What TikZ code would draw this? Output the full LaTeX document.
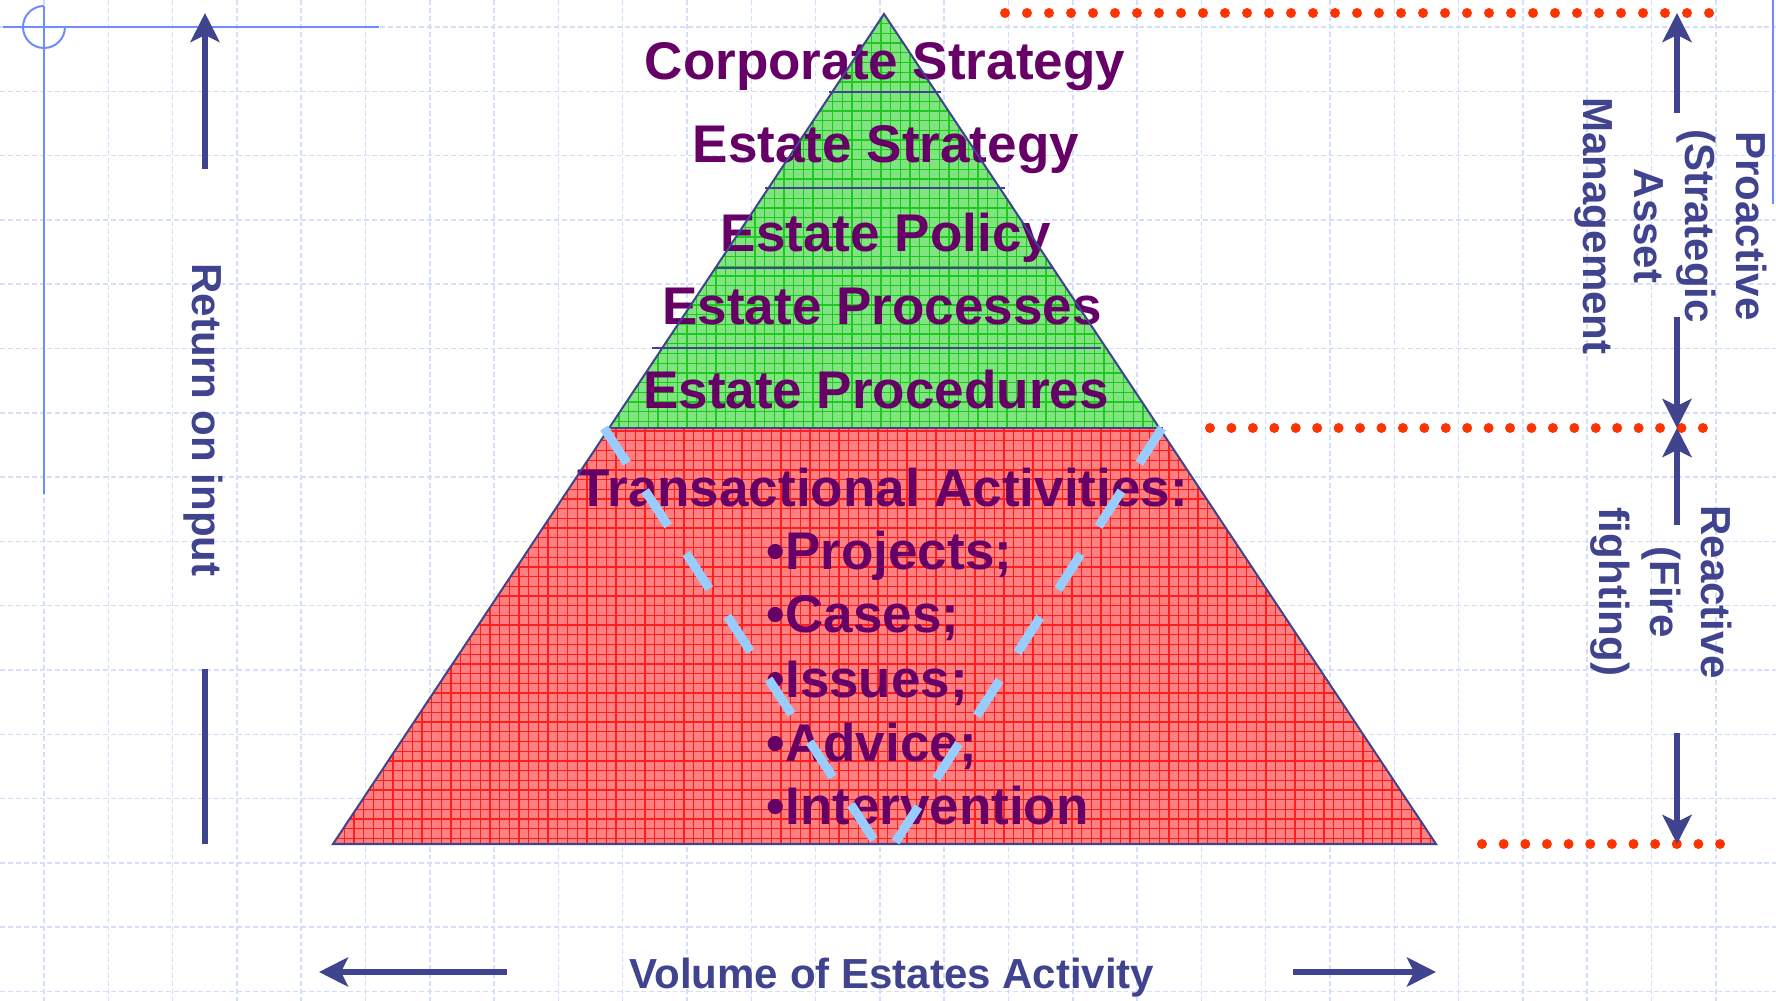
\documentclass[tikz,border=0pt]{standalone}
\usepackage{fontspec}
\setmainfont{Liberation Sans}
\usetikzlibrary{arrows.meta}
\definecolor{txtpurple}{RGB}{102,0,102}
\definecolor{lblblue}{RGB}{64,68,142}
\definecolor{dotred}{RGB}{255,51,0}
\definecolor{gridcol}{RGB}{212,222,250}
\definecolor{decoblue}{RGB}{110,140,255}
\definecolor{greenfill}{RGB}{128,228,128}
\definecolor{greenline}{RGB}{30,200,30}
\definecolor{redfill}{RGB}{255,128,128}
\definecolor{redline}{RGB}{255,30,30}
\definecolor{vblue}{RGB}{153,204,255}
\begin{document}
\begin{tikzpicture}[x=0.01cm,y=-0.01cm,
  pyr/.style={font=\fontsize{15.08}{18}\selectfont\bfseries, text=txtpurple, inner sep=0pt, anchor=base},
  bul/.style={pyr, anchor=base west},
  lbl/.style={font=\fontsize{11.95}{14.5}\selectfont\bfseries, text=lblblue, inner sep=0pt, align=center},
  arr/.style={draw=lblblue, line width=1.7pt, -{Stealth[length=8.25pt,width=8.25pt,inset=2pt]}},
  bar/.style={draw=lblblue, line width=1.7pt},
  bggrid/.style={draw=gridcol, line width=0.43pt, dash pattern=on 1.4pt off 0.85pt},
  deco/.style={draw=decoblue, line width=0.57pt},
  divider/.style={draw=lblblue, line width=0.7pt},
  vdash/.style={draw=vblue, line width=2.56pt, dash pattern=on 11.95pt off 9.39pt},
  reddot/.style={fill=dotred},
  patline/.style={line width=0.38pt}
]
\useasboundingbox (0,0) rectangle (1776,1001);
\fill[white] (0,0) rectangle (1776,1001);
% background grid
\foreach \k in {0,...,26} {\draw[bggrid] ({44+64.3*\k},0) -- ({44+64.3*\k},1001);}
\foreach \k in {0,...,15} {\draw[bggrid] (0,{27+64.3*\k}) -- (1776,{27+64.3*\k});}
% corner decorations
\draw[deco] (3,27) -- (379,27);
\draw[deco] (44,6) -- (44,494);
\draw[deco] (44,6) arc[start angle=270, end angle=0, radius=21];
\draw[deco] (1773,0) -- (1773,204);
% pyramid coordinates
\coordinate (apex) at (884,14);
\coordinate (bl) at (333,844);
\coordinate (br) at (1436,844);
\coordinate (ml) at (608.9,428);
\coordinate (mr) at (1159.1,428);
% green part
\begin{scope}
\clip (apex) -- (ml) -- (mr) -- cycle;
\fill[greenfill] (590,0) rectangle (1180,430);
\foreach \k in {0,...,61} {\draw[greenline, patline] ({590+9.7*\k},0) -- ({590+9.7*\k},430);}
\foreach \k in {0,...,44} {\draw[greenline, patline] (590,{14+9.7*\k}) -- (1180,{14+9.7*\k});}
\end{scope}
% red part
\begin{scope}
\clip (ml) -- (bl) -- (br) -- (mr) -- cycle;
\fill[redfill] (320,420) rectangle (1450,850);
\foreach \k in {0,...,116} {\draw[redline, patline] ({325+9.7*\k},420) -- ({325+9.7*\k},850);}
\foreach \k in {42,...,86} {\draw[redline, patline] (320,{14+9.7*\k}) -- (1450,{14+9.7*\k});}
\end{scope}
% dividers
\draw[divider] (829,92) -- (941,92);
\draw[divider] (765,188) -- (1005,188);
\draw[divider] (716,268) -- (1054,268);
\draw[divider] (652,348) -- (1101,348);
\draw[divider] (611,428) -- (1163,428);
% pyramid texts
\node[pyr] (t1) at (885,80) {Corporate Strategy};
\node[pyr] (t2) at (886,163) {Estate Strategy};
\node[pyr] (t3) at (886,252) {Estate Policy};
\node[pyr] (t4) at (882,325) {Estate Processes};
\node[pyr] (t5) at (876,409) {Estate Procedures};
\node[pyr] (t6) at (883,507) {Transactional Activities:};
\node[bul] (b1) at (766,570) {•Projects;};
\node[bul] (b2) at (766,633) {•Cases;};
\node[bul] (b3) at (766,698) {•Issues;};
\node[bul] (b4) at (766,762) {•Advice;};
\node[bul] (b5) at (766,825) {•Intervention};
% outline
\draw[draw=lblblue, line width=0.57pt, line join=miter] (apex) -- (bl) -- (br) -- cycle;
% dashed V
\coordinate (vl0) at (604,428); \coordinate (vl1) at (878,846);
\coordinate (vr0) at (1162,428); \coordinate (vr1) at (893,846);
\draw[vdash] (vl0) -- (vl1);
\draw[vdash] (vr0) -- (vr1);
% red dotted lines
\foreach \i in {0,...,32} {\fill[reddot] ({1005+22*\i},13) circle[radius=5];}
\foreach \i in {0,...,23} {\fill[reddot] ({1210+21.43*\i},428) circle[radius=5];}
\foreach \i in {0,...,11} {\fill[reddot] ({1482+21.64*\i},844) circle[radius=5];}
% left axis
\coordinate (lu0) at (205,169); \coordinate (lu1) at (205,13);
\coordinate (ld0) at (205,669); \coordinate (ld1) at (205,844);
\draw[arr] (lu0) -- (lu1);
\draw[bar] (ld0) -- (ld1);
\node[lbl, rotate=-90] (roi) at (203,420) {Return on input};
% right axis
\coordinate (ra0) at (1677,113); \coordinate (ra1) at (1677,13);
\coordinate (rb0) at (1677,317); \coordinate (rb1) at (1677,428);
\coordinate (rc0) at (1677,525); \coordinate (rc1) at (1677,428);
\coordinate (rd0) at (1677,733); \coordinate (rd1) at (1677,844);
\draw[arr] (ra0) -- (ra1);
\draw[arr] (rb0) -- (rb1);
\draw[arr] (rc0) -- (rc1);
\draw[arr] (rd0) -- (rd1);
\node[lbl, rotate=-90] (pro) at (1671,226) {Proactive\\(Strategic\\Asset\\Management};
\node[lbl, rotate=-90] (rea) at (1661,592) {Reactive\\(Fire\\fighting)};
% bottom axis
\coordinate (ba0) at (507,972); \coordinate (ba1) at (319,972);
\coordinate (bb0) at (1293,972); \coordinate (bb1) at (1436,972);
\draw[arr] (ba0) -- (ba1);
\draw[arr] (bb0) -- (bb1);
\node[lbl, anchor=base] (vol) at (892,988) {Volume of Estates Activity};
\end{tikzpicture}
\end{document}
